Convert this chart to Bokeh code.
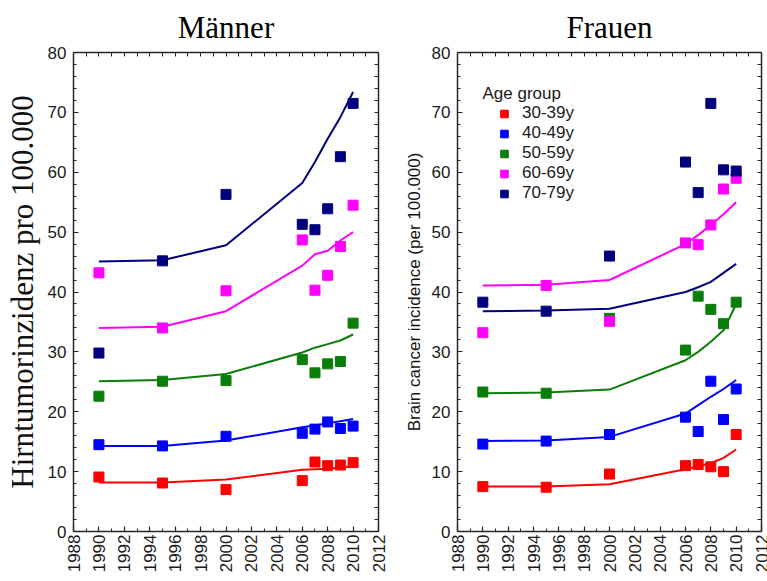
import math
from bokeh.plotting import figure
from bokeh.layouts import row
from bokeh.models import (LinearAxis, Legend, LegendItem, Label, FixedTicker, Range1d)
from bokeh.embed import file_html
from bokeh.resources import INLINE

years = [1990, 1995, 2000, 2006, 2007, 2008, 2009, 2010]
age_groups = ["30-39y", "40-49y", "50-59y", "60-69y", "70-79y"]
colors = ["#ff0000", "#0000ff", "#0a7d0a", "#ff00ff", "#00007f"]

x_ticks = list(range(1988, 2013, 2))
y_ticks = list(range(0, 81, 10))

# Männer: observed incidence
m_30 = [9.1, 8.1, 7.0, 8.5, 11.6, 11.0, 11.1, 11.5]
m_40 = [14.5, 14.3, 15.9, 16.4, 17.1, 18.3, 17.2, 17.6]
m_50 = [22.6, 25.1, 25.2, 28.7, 26.5, 28.0, 28.4, 34.8]
m_60 = [43.2, 34.0, 40.2, 48.7, 40.3, 42.8, 47.6, 54.5]
m_70 = [29.8, 45.2, 56.3, 51.3, 50.4, 53.9, 62.6, 71.5]
# Männer: fitted trend
mf_30 = [8.2, 8.2, 8.7, 10.3, 10.4, 10.5, 10.7, 10.9]
mf_40 = [14.3, 14.3, 15.2, 17.4, 17.7, 18.1, 18.4, 18.8]
mf_50 = [25.1, 25.3, 26.3, 29.9, 30.7, 31.3, 31.9, 32.9]
mf_60 = [34.0, 34.2, 36.8, 44.4, 46.3, 46.9, 48.6, 50.0]
mf_70 = [45.1, 45.3, 47.8, 58.2, 61.7, 65.6, 69.2, 73.4]

# Frauen: observed incidence
f_30 = [7.5, 7.4, 9.6, 11.0, 11.2, 10.8, 10.0, 16.2]
f_40 = [14.6, 15.1, 16.2, 19.1, 16.7, 25.1, 18.7, 23.8]
f_50 = [23.3, 23.1, 35.6, 30.3, 39.3, 37.1, 34.7, 38.3]
f_60 = [33.2, 41.1, 35.1, 48.2, 47.9, 51.2, 57.2, 59.0]
f_70 = [38.3, 36.8, 46.0, 61.7, 56.6, 71.5, 60.4, 60.2]
# Frauen: fitted trend
ff_30 = [7.5, 7.5, 7.9, 10.4, 10.9, 11.4, 12.3, 13.7]
ff_40 = [15.1, 15.2, 15.8, 19.7, 21.1, 22.5, 23.8, 25.3]
ff_50 = [23.1, 23.2, 23.7, 28.6, 30.0, 31.7, 33.6, 38.0]
ff_60 = [41.1, 41.2, 42.0, 48.0, 49.5, 51.2, 53.0, 55.0]
ff_70 = [36.8, 36.9, 37.2, 40.0, 40.8, 41.7, 43.2, 44.7]

TICK_FONT = "Liberation Sans"
SERIF = "Liberation Serif"
AX_COLOR = "#262626"


def style_axis(ax, show_labels, xdir):
    ax.axis_line_color = AX_COLOR
    ax.axis_line_width = 1.5
    ax.major_tick_line_color = AX_COLOR
    ax.minor_tick_line_color = AX_COLOR
    ax.major_tick_in = 5
    ax.major_tick_out = 0
    ax.minor_tick_out = 0
    ax.major_tick_line_width = 1.2
    ax.minor_tick_line_width = 1.0
    minors = list(range(1988, 2013)) if xdir else list(range(0, 81, 2))
    majors = x_ticks if xdir else y_ticks
    if show_labels:
        ax.ticker = FixedTicker(ticks=majors, minor_ticks=minors)
        ax.minor_tick_in = 3
        ax.major_label_text_font = TICK_FONT
        ax.major_label_text_font_size = "17px"
        ax.major_label_text_color = "#1a1a1a"
        ax.major_label_standoff = 7
    else:
        # frame side without labels: only inward ticks
        ax.ticker = FixedTicker(ticks=[], minor_ticks=minors)
        ax.minor_tick_in = 4
        ax.major_label_standoff = 0


def make_fig(title, ylabel, ylabel_font, ylabel_size, label_standoff, obs, fit,
             width, min_left, min_right):
    p = figure(width=width, height=581, x_range=Range1d(1988, 2012), y_range=Range1d(0, 80),
               output_backend="svg", toolbar_location=None,
               min_border_left=min_left, min_border_right=min_right,
               min_border_top=50, min_border_bottom=50)
    p.xgrid.visible = False
    p.ygrid.visible = False
    p.outline_line_color = None
    p.background_fill_color = "white"
    p.border_fill_color = "white"

    p.title.text = title
    p.title.text_font = SERIF
    p.title.text_font_size = "31px"
    p.title.text_font_style = "normal"
    p.title.align = "center"
    p.title.text_color = "black"
    p.title.standoff = 15

    style_axis(p.xaxis[0], True, True)
    p.xaxis[0].major_label_orientation = math.pi / 2
    p.xaxis[0].major_label_standoff = 3
    style_axis(p.yaxis[0], True, False)
    p.yaxis[0].axis_label = ylabel
    p.yaxis[0].axis_label_text_font = ylabel_font
    p.yaxis[0].axis_label_text_font_size = ylabel_size
    p.yaxis[0].axis_label_text_font_style = "normal"
    p.yaxis[0].axis_label_text_color = "#111111"
    p.yaxis[0].axis_label_standoff = label_standoff

    top = LinearAxis()
    style_axis(top, False, True)
    p.add_layout(top, "above")
    right = LinearAxis()
    style_axis(right, False, False)
    p.add_layout(right, "right")

    for fy, c in zip(fit, colors):
        p.line(years, fy, line_color=c, line_width=2)
    scatters = []
    for oy, c in zip(obs, colors):
        r = p.scatter(years, oy, marker="square", size=10, fill_color=c, line_color=c)
        scatters.append(r)
    return p, scatters


p1, _ = make_fig("Männer", "Hirntumorinzidenz pro 100.000", SERIF, "31px", 5,
                 [m_30, m_40, m_50, m_60, m_70], [mf_30, mf_40, mf_50, mf_60, mf_70],
                 390, 73, 12)
p2, sc2 = make_fig("Frauen", "Brain cancer incidence (per 100.000)", TICK_FONT, "17px", 5,
                   [f_30, f_40, f_50, f_60, f_70], [ff_30, ff_40, ff_50, ff_60, ff_70],
                   377, 67, 6)

legend = Legend(items=[LegendItem(label=ag, renderers=[r]) for ag, r in zip(age_groups, sc2)],
                location=(36, 328), padding=0, margin=0, spacing=0,
                label_height=19, glyph_width=22, glyph_height=19, label_standoff=7,
                background_fill_alpha=0, border_line_color=None,
                label_text_font=TICK_FONT, label_text_font_size="17px",
                label_text_color="#1a1a1a")
p2.add_layout(legend)
p2.add_layout(Label(x=25, y=438, x_units="screen", y_units="screen", text="Age group",
                    text_font=TICK_FONT, text_font_size="17px", text_color="#1a1a1a",
                    text_baseline="middle"))

layout = row(p1, p2)
open("out.html", "w").write(file_html(layout, INLINE))
